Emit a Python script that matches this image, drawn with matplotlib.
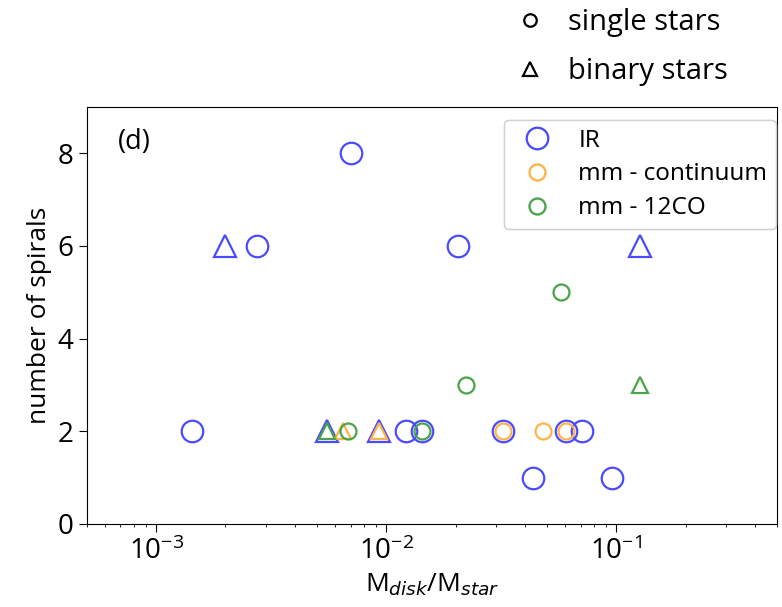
import matplotlib
matplotlib.use('Agg')
import matplotlib.pyplot as plt
from matplotlib.lines import Line2D

plt.rcParams['font.family'] = ['Open Sans', 'DejaVu Sans']
plt.rcParams['mathtext.fontset'] = 'dejavusans'

# IR observations
ir_single_x = [1.43e-3, 2.75e-3, 7.0e-3, 0.0122, 0.0143, 0.0205, 0.0322, 0.0432, 0.0605, 0.071, 0.096]
ir_single_y = [2, 6, 8, 2, 2, 6, 2, 1, 2, 2, 1]
ir_binary_x = [2.0e-3, 5.55e-3, 9.3e-3, 0.127]
ir_binary_y = [6, 2, 2, 6]

# mm continuum
cont_single_x = [0.0322, 0.048, 0.0605]
cont_single_y = [2, 2, 2]
cont_binary_x = [6.5e-3, 9.3e-3]
cont_binary_y = [2, 2]

# mm 12CO
co_single_x = [6.8e-3, 0.0143, 0.0222, 0.0575]
co_single_y = [2, 2, 3, 5]
co_binary_x = [5.55e-3, 0.127]
co_binary_y = [2, 3]

blue = '#4a4aff'
orange = '#ffb347'
green = '#49a449'

fig = plt.figure(figsize=(7.82, 6.07), dpi=100)
ax = fig.add_axes([0.111, 0.137, 0.883, 0.687])

big = dict(linestyle='none', markerfacecolor='none', markeredgewidth=1.6)
ax.plot(ir_single_x, ir_single_y, marker='o', markersize=15.5, color=blue, **big)
ax.plot(ir_binary_x, ir_binary_y, marker='^', markersize=15.5, color=blue, **big)
ax.plot(cont_single_x, cont_single_y, marker='o', markersize=11.5, color=orange, **big)
ax.plot(cont_binary_x, cont_binary_y, marker='^', markersize=12, color=orange, **big)
ax.plot(co_single_x, co_single_y, marker='o', markersize=11.5, color=green, **big)
ax.plot(co_binary_x, co_binary_y, marker='^', markersize=12, color=green, **big)

ax.set_xscale('log')
ax.set_xlim(5e-4, 0.5)
ax.set_ylim(0, 9)
ax.set_yticks([0, 2, 4, 6, 8])
ax.tick_params(labelsize=20, length=6)
ax.set_xlabel(r'M$_{disk}$/M$_{star}$', fontsize=19)
ax.set_ylabel('number of spirals', fontsize=19)
ax.text(0.045, 0.915, '(d)', transform=ax.transAxes, fontsize=19.5, va='center')

# data source legend inside the axes
src_handles = [
    Line2D([], [], marker='o', markersize=15.5, color=blue, **big),
    Line2D([], [], marker='o', markersize=11.5, color=orange, **big),
    Line2D([], [], marker='o', markersize=11.5, color=green, **big),
]
leg1 = ax.legend(src_handles, ['IR', 'mm - continuum', 'mm - 12CO'],
                 loc='upper right', bbox_to_anchor=(0.998, 0.968), fontsize=17.5,
                 borderaxespad=0, handletextpad=0.7, labelspacing=0.4,
                 borderpad=0.35)
ax.add_artist(leg1)

# star type legend above the axes
type_handles = [
    Line2D([], [], marker='o', markersize=9, color='black', **big),
    Line2D([], [], marker='^', markersize=10, color='black', **big),
]
fig.legend(type_handles, ['single stars', 'binary stars'], loc='upper left',
           bbox_to_anchor=(0.614, 1.03), frameon=False, fontsize=21,
           handletextpad=0.5, handlelength=1.6, labelspacing=0.7)

fig.savefig('out.png', dpi=100)
